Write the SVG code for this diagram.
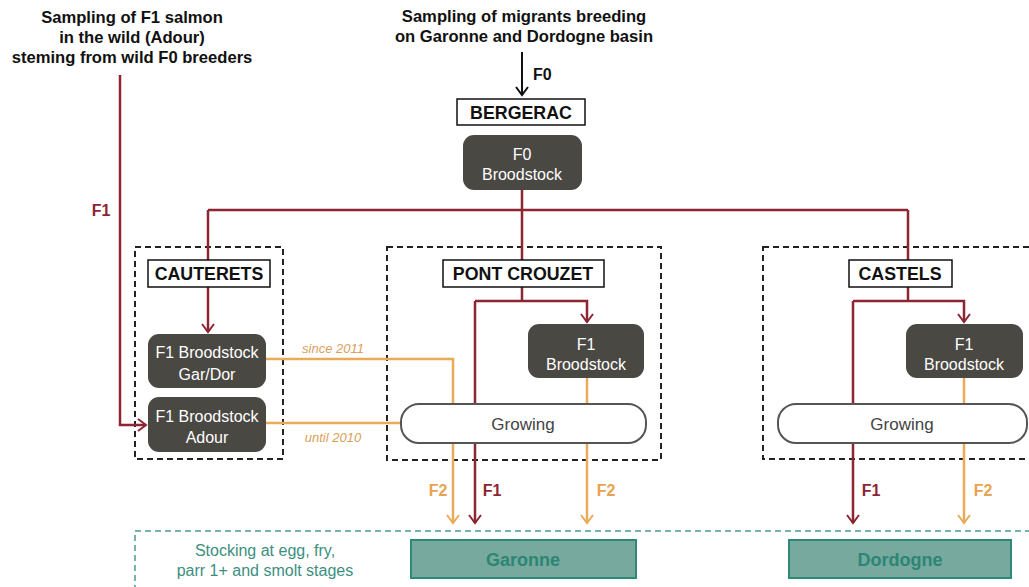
<svg xmlns="http://www.w3.org/2000/svg" width="1029" height="587" viewBox="0 0 1029 587">
<style>
  text { font-family: "Liberation Sans", Arial, sans-serif; }
  .title { font-size: 16.6px; font-weight: bold; fill: #111; text-anchor: middle; }
  .site { fill: #fff; stroke: #111; stroke-width: 1.5; }
  .sitet { font-size: 17.8px; font-weight: bold; fill: #111; text-anchor: middle; }
  .dark { fill: #4a4843; }
  .darkt { font-size: 16px; fill: #fff; text-anchor: middle; }
  .grow { fill: #fff; stroke: #555; stroke-width: 2; }
  .growt { font-size: 17px; fill: #444; text-anchor: middle; }
  .cont { fill: none; stroke: #222; stroke-width: 2; stroke-dasharray: 6 4; }
  .red { fill: none; stroke: #8c2633; stroke-width: 2.5; }
  .org { fill: none; stroke: #e9aa5a; stroke-width: 2.5; }
  .blk { fill: none; stroke: #111; stroke-width: 2; }
  .redt { font-size: 16px; font-weight: bold; fill: #8c2633; text-anchor: middle; }
  .orgt { font-size: 16px; font-weight: bold; fill: #e9a24f; text-anchor: middle; }
  .note { font-size: 13px; font-style: italic; fill: #d9a05b; text-anchor: middle; }
  .river { fill: #78a99f; stroke: #2c8a77; stroke-width: 2; }
  .rivert { font-size: 18px; font-weight: bold; fill: #2b8673; text-anchor: middle; }
  .stock { font-size: 16px; fill: #3c8f80; text-anchor: middle; }
  .teal { fill: none; stroke: #4a9a8c; stroke-width: 1.5; stroke-dasharray: 6 4; }
</style>
<defs>
  <marker id="ar" viewBox="-10 -8 12 16" refX="0" refY="0" markerWidth="12" markerHeight="16" markerUnits="userSpaceOnUse" orient="auto">
    <path d="M-8,-6 L0,0 L-8,6" fill="none" stroke="#8c2633" stroke-width="2"/>
  </marker>
  <marker id="ao" viewBox="-10 -8 12 16" refX="0" refY="0" markerWidth="12" markerHeight="16" markerUnits="userSpaceOnUse" orient="auto">
    <path d="M-8,-6 L0,0 L-8,6" fill="none" stroke="#e9aa5a" stroke-width="2"/>
  </marker>
  <marker id="ab" viewBox="-10 -8 12 16" refX="0" refY="0" markerWidth="12" markerHeight="16" markerUnits="userSpaceOnUse" orient="auto">
    <path d="M-8,-6 L0,0 L-8,6" fill="none" stroke="#111" stroke-width="2"/>
  </marker>
</defs>
<rect width="1029" height="587" fill="#fff"/>

<g id="sources">
  <text class="title" x="132" y="23">Sampling of F1 salmon</text>
  <text class="title" x="132" y="43">in the wild (Adour)</text>
  <text class="title" x="132" y="63">steming from wild F0 breeders</text>
  <text class="title" x="524" y="22">Sampling of migrants breeding</text>
  <text class="title" x="524" y="42">on Garonne and Dordogne basin</text>
</g>

<g id="containers">
  <rect id="cauterets-area" class="cont" x="135" y="247" width="148" height="212"/>
  <rect id="pontcrouzet-area" class="cont" x="387" y="247" width="274" height="213"/>
  <rect id="castels-area" class="cont" x="763" y="247" width="280" height="212"/>
  <rect id="stocking-area" class="teal" x="135" y="531" width="910" height="70"/>
</g>

<g id="connectors">
  <line class="blk" x1="522" y1="52" x2="522" y2="95" marker-end="url(#ab)"/>
  <text x="533" y="80" font-size="16" font-weight="bold" fill="#111">F0</text>
  <path class="red" d="M522,190 V210 M208,210 H908 M522,210 V260"/>
  <path class="red" d="M908,210 V260"/>
  <path class="red" d="M208,210 V332" marker-end="url(#ar)"/>
  <path class="red" d="M120,75 V425 H146" marker-end="url(#ar)"/>
  <text class="redt" x="101" y="216">F1</text>
  <!-- Pont Crouzet -->
  <path class="red" d="M522,287 V301 H475 M522,301 H587 V322" marker-end="url(#ar)"/>
  <path class="red" d="M475,301 V523" marker-end="url(#ar)"/>
  <path class="org" d="M266,359 H453 V523" marker-end="url(#ao)"/>
  <path class="org" d="M266,423 H401"/>
  <path class="org" d="M587,378 V523" marker-end="url(#ao)"/>
  <text class="note" x="333" y="353">since 2011</text>
  <text class="note" x="333" y="442">until 2010</text>
  <text class="orgt" x="438" y="496">F2</text>
  <text class="redt" x="492" y="496">F1</text>
  <text class="orgt" x="606" y="496">F2</text>
  <!-- Castels -->
  <path class="red" d="M908,287 V301 H853 M908,301 H964 V322" marker-end="url(#ar)"/>
  <path class="red" d="M853,301 V523" marker-end="url(#ar)"/>
  <path class="org" d="M964,378 V523" marker-end="url(#ao)"/>
  <text class="redt" x="871" y="496">F1</text>
  <text class="orgt" x="983" y="496">F2</text>
</g>

<g id="bergerac">
  <rect class="site" x="457" y="99" width="128" height="26"/>
  <text class="sitet" x="521" y="119">BERGERAC</text>
</g>
<g id="f0-broodstock">
  <rect class="dark" x="463" y="135" width="119" height="55" rx="11"/>
  <text class="darkt" x="522" y="160">F0</text>
  <text class="darkt" x="522" y="180">Broodstock</text>
</g>

<g id="cauterets">
  <rect class="site" x="148" y="260" width="122" height="27"/>
  <text class="sitet" x="209" y="280">CAUTERETS</text>
</g>
<g id="f1-gardor">
  <rect class="dark" x="148" y="334" width="118" height="54" rx="11"/>
  <text class="darkt" x="207" y="358">F1 Broodstock</text>
  <text class="darkt" x="207" y="380">Gar/Dor</text>
</g>
<g id="f1-adour">
  <rect class="dark" x="148" y="397" width="118" height="55" rx="11"/>
  <text class="darkt" x="207" y="422">F1 Broodstock</text>
  <text class="darkt" x="207" y="443">Adour</text>
</g>

<g id="pontcrouzet">
  <rect class="site" x="443" y="260" width="161" height="27"/>
  <text class="sitet" x="523" y="280">PONT CROUZET</text>
</g>
<g id="pc-broodstock">
  <rect class="dark" x="528" y="324" width="116" height="54" rx="11"/>
  <text class="darkt" x="586" y="350">F1</text>
  <text class="darkt" x="586" y="370">Broodstock</text>
</g>
<g id="pc-growing">
  <rect class="grow" x="401" y="404" width="245" height="39" rx="18"/>
  <text class="growt" x="523" y="430">Growing</text>
</g>

<g id="castels">
  <rect class="site" x="849" y="260" width="103" height="27"/>
  <text class="sitet" x="900" y="280">CASTELS</text>
</g>
<g id="ca-broodstock">
  <rect class="dark" x="906" y="324" width="117" height="54" rx="11"/>
  <text class="darkt" x="964" y="350">F1</text>
  <text class="darkt" x="964" y="370">Broodstock</text>
</g>
<g id="ca-growing">
  <rect class="grow" x="778" y="404" width="249" height="39" rx="18"/>
  <text class="growt" x="902" y="430">Growing</text>
</g>

<g id="stocking">
  <text class="stock" x="265" y="556">Stocking at egg, fry,</text>
  <text class="stock" x="265" y="576">parr 1+ and smolt stages</text>
</g>
<g id="garonne">
  <rect class="river" x="411" y="540" width="225" height="38"/>
  <text class="rivert" x="523" y="566">Garonne</text>
</g>
<g id="dordogne">
  <rect class="river" x="789" y="540" width="222" height="38"/>
  <text class="rivert" x="900" y="566">Dordogne</text>
</g>
</svg>
